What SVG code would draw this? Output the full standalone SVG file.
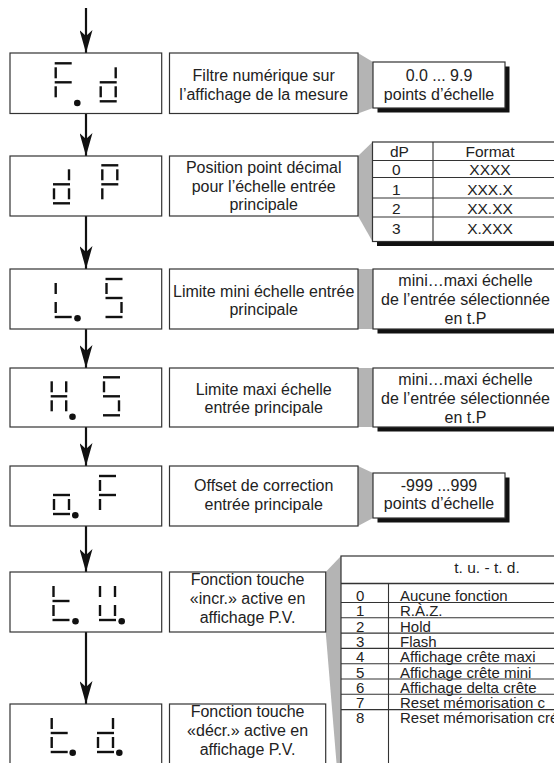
<svg xmlns="http://www.w3.org/2000/svg" width="554" height="763" viewBox="0 0 554 763">
<defs>
<style>
.bg{fill:#fff}
.box{fill:#fff;stroke:#333;stroke-width:1.2}
.sh{fill:#111}
.wg{fill:#b4b4b4}
.seg{stroke:#111;stroke-width:2.4;stroke-linecap:butt;fill:none}
.dot{fill:#111}
.t{font-family:"Liberation Sans",Arial,Helvetica,sans-serif;font-size:16px;fill:#222;text-anchor:middle}
.s{font-size:15.5px}
.r{font-size:15px}
.l{text-anchor:start}
.rule{stroke:#333;stroke-width:1.1}
.conn line{stroke:#111;stroke-width:2.2}
</style>
<marker id="ah" markerUnits="userSpaceOnUse" markerWidth="23" markerHeight="13" viewBox="0 0 23 13" refX="23" refY="6.5" orient="auto">
<path d="M0,0 L23,6.5 L0,13 L6,6.5 Z" fill="#111"/>
</marker>
</defs>
<rect class="bg" x="0" y="0" width="554" height="763"/>

<g id="connectors" class="conn">
<line x1="86" y1="8" x2="86" y2="53" marker-end="url(#ah)"/>
<line x1="86" y1="114" x2="86" y2="156" marker-end="url(#ah)"/>
<line x1="86" y1="216" x2="86" y2="269" marker-end="url(#ah)"/>
<line x1="86" y1="329" x2="86" y2="368" marker-end="url(#ah)"/>
<line x1="86" y1="427" x2="86" y2="466" marker-end="url(#ah)"/>
<line x1="86" y1="526" x2="86" y2="572" marker-end="url(#ah)"/>
<line x1="86" y1="632" x2="86" y2="704" marker-end="url(#ah)"/>
</g>

<!-- Step 1: F.d -->
<g id="disp-fd">
<rect class="box" x="10" y="53" width="151.7" height="60.5"/>
<g class="seg">
<line x1="54.7" y1="63.3" x2="71.7" y2="63.3"/><line x1="55.7" y1="67.3" x2="55.7" y2="78.3"/><line x1="54.7" y1="82.3" x2="71.7" y2="82.3"/><line x1="55.7" y1="86.3" x2="55.7" y2="97.3"/>
<line x1="115.7" y1="67.3" x2="115.7" y2="78.3"/><line x1="99.7" y1="82.3" x2="116.7" y2="82.3"/><line x1="100.7" y1="86.3" x2="100.7" y2="97.3"/><line x1="115.7" y1="86.3" x2="115.7" y2="97.3"/><line x1="99.7" y1="101.3" x2="116.7" y2="101.3"/>
</g>
<circle class="dot" cx="77.3" cy="103" r="3.3"/>
</g>
<g id="desc-fd">
<polygon class="wg" points="358,53 373,62 373,108 358,113.5"/>
<rect class="box" x="169.5" y="53" width="188.5" height="60.5"/>
<text class="t" x="263.7" y="81">Filtre numérique sur</text>
<text class="t" x="263.7" y="100">l’affichage de la mesure</text>
</g>
<g id="val-fd">
<rect class="sh" x="377.5" y="66.5" width="132" height="46"/>
<rect class="box" x="373" y="62" width="132" height="46"/>
<text class="t" x="439" y="81">0.0 ... 9.9</text>
<text class="t" x="439" y="100">points d’échelle</text>
</g>

<!-- Step 2: dP -->
<g id="disp-dp">
<rect class="box" x="10" y="156" width="151.7" height="60"/>
<g class="seg">
<line x1="69" y1="169.3" x2="69" y2="180.3"/><line x1="53" y1="184.3" x2="70" y2="184.3"/><line x1="54" y1="188.3" x2="54" y2="199.3"/><line x1="69" y1="188.3" x2="69" y2="199.3"/><line x1="53" y1="203.3" x2="70" y2="203.3"/>
<line x1="101.3" y1="165.3" x2="118.3" y2="165.3"/><line x1="102.3" y1="169.3" x2="102.3" y2="180.3"/><line x1="117.3" y1="169.3" x2="117.3" y2="180.3"/><line x1="101.3" y1="184.3" x2="118.3" y2="184.3"/><line x1="102.3" y1="188.3" x2="102.3" y2="199.3"/>
</g>
</g>
<g id="desc-dp">
<polygon class="wg" points="358,156 372.5,142 372.5,241.5 358,216"/>
<rect class="box" x="169.5" y="156" width="188.5" height="60"/>
<text class="t" x="263.7" y="173">Position point décimal</text>
<text class="t" x="263.7" y="191.5">pour l’échelle entrée</text>
<text class="t" x="263.7" y="210">principale</text>
</g>
<g id="table-dp">
<rect class="sh" x="377" y="146.5" width="200" height="99.5"/>
<rect class="box" x="372.5" y="142" width="200" height="99.5"/>
<line class="rule" x1="433" y1="142" x2="433" y2="241.5"/>
<line class="rule" x1="372.5" y1="160.5" x2="554" y2="160.5"/>
<line class="rule" x1="372.5" y1="177.5" x2="554" y2="177.5"/>
<line class="rule" x1="372.5" y1="198" x2="554" y2="198"/>
<line class="rule" x1="372.5" y1="217" x2="554" y2="217"/>
<text class="t s l" x="390" y="157">dP</text>
<text class="t s" x="490" y="157">Format</text>
<text class="t s l" x="392" y="175">0</text>
<text class="t s" x="490" y="175">XXXX</text>
<text class="t s l" x="392" y="194.5">1</text>
<text class="t s" x="490" y="194.5">XXX.X</text>
<text class="t s l" x="392" y="214">2</text>
<text class="t s" x="490" y="214">XX.XX</text>
<text class="t s l" x="392" y="234">3</text>
<text class="t s" x="490" y="234">X.XXX</text>
</g>

<!-- Step 3: L.S -->
<g id="disp-ls">
<rect class="box" x="10" y="269" width="151.7" height="60"/>
<g class="seg">
<line x1="55.7" y1="283" x2="55.7" y2="294"/><line x1="55.7" y1="302" x2="55.7" y2="313"/><line x1="54.7" y1="317" x2="71.7" y2="317"/>
<line x1="105.5" y1="279" x2="122.5" y2="279"/><line x1="106.5" y1="283" x2="106.5" y2="294"/><line x1="105.5" y1="298" x2="122.5" y2="298"/><line x1="121.5" y1="302" x2="121.5" y2="313"/><line x1="105.5" y1="317" x2="122.5" y2="317"/>
</g>
<circle class="dot" cx="77.5" cy="318.3" r="3.3"/>
</g>
<g id="desc-ls">
<rect class="wg" x="358" y="269" width="15" height="60"/>
<rect class="box" x="169.5" y="269" width="188.5" height="60"/>
<text class="t" x="263.7" y="296.5">Limite mini échelle entrée</text>
<text class="t" x="263.7" y="315">principale</text>
</g>
<g id="val-ls">
<rect class="sh" x="377.5" y="273.5" width="200" height="60"/>
<rect class="box" x="373" y="269" width="200" height="60"/>
<text class="t" x="465.5" y="286">mini…maxi échelle</text>
<text class="t" x="465.5" y="305">de l’entrée sélectionnée</text>
<text class="t" x="465.5" y="323.5">en t.P</text>
</g>

<!-- Step 4: H.S -->
<g id="disp-hs">
<rect class="box" x="10" y="368" width="151.7" height="59"/>
<g class="seg">
<line x1="51.7" y1="381.3" x2="51.7" y2="392.3"/><line x1="66.2" y1="381.3" x2="66.2" y2="392.3"/><line x1="50.7" y1="396.3" x2="67.2" y2="396.3"/><line x1="51.7" y1="400.3" x2="51.7" y2="411.3"/><line x1="66.2" y1="400.3" x2="66.2" y2="411.3"/>
<line x1="103" y1="377.3" x2="120" y2="377.3"/><line x1="104" y1="381.3" x2="104" y2="392.3"/><line x1="103" y1="396.3" x2="120" y2="396.3"/><line x1="119" y1="400.3" x2="119" y2="411.3"/><line x1="103" y1="415.3" x2="120" y2="415.3"/>
</g>
<circle class="dot" cx="72.5" cy="416.7" r="3.3"/>
</g>
<g id="desc-hs">
<rect class="wg" x="358" y="368" width="15" height="59"/>
<rect class="box" x="169.5" y="368" width="188.5" height="59"/>
<text class="t" x="263.7" y="394.5">Limite maxi échelle</text>
<text class="t" x="263.7" y="413">entrée principale</text>
</g>
<g id="val-hs">
<rect class="sh" x="377.5" y="372.5" width="200" height="59"/>
<rect class="box" x="373" y="368" width="200" height="59"/>
<text class="t" x="465.5" y="385">mini…maxi échelle</text>
<text class="t" x="465.5" y="404">de l’entrée sélectionnée</text>
<text class="t" x="465.5" y="422.5">en t.P</text>
</g>

<!-- Step 5: o.F -->
<g id="disp-of">
<rect class="box" x="10" y="466" width="151.7" height="60"/>
<g class="seg">
<line x1="53" y1="495" x2="70" y2="495"/><line x1="54" y1="499" x2="54" y2="510"/><line x1="69" y1="499" x2="69" y2="510"/><line x1="53" y1="514" x2="70" y2="514"/>
<line x1="99" y1="476" x2="116" y2="476"/><line x1="100" y1="480" x2="100" y2="491"/><line x1="99" y1="495" x2="116" y2="495"/><line x1="100" y1="499" x2="100" y2="510"/>
</g>
<circle class="dot" cx="75.3" cy="515.3" r="3.3"/>
</g>
<g id="desc-of">
<polygon class="wg" points="358,466 373,473 373,518 358,526"/>
<rect class="box" x="169.5" y="466" width="188.5" height="60"/>
<text class="t" x="263.7" y="491">Offset de correction</text>
<text class="t" x="263.7" y="509.5">entrée principale</text>
</g>
<g id="val-of">
<rect class="sh" x="377.5" y="477.5" width="132" height="45"/>
<rect class="box" x="373" y="473" width="132" height="45"/>
<text class="t" x="439" y="490.5">-999 ...999</text>
<text class="t" x="439" y="509">points d’échelle</text>
</g>

<!-- Step 6: t.u -->
<g id="disp-tu">
<rect class="box" x="10" y="572" width="151.7" height="60"/>
<g class="seg">
<line x1="53.5" y1="586" x2="53.5" y2="597"/><line x1="52.5" y1="601" x2="69.5" y2="601"/><line x1="53.5" y1="605" x2="53.5" y2="616"/><line x1="52.5" y1="620" x2="69.5" y2="620"/>
<line x1="100" y1="586" x2="100" y2="597"/><line x1="115" y1="586" x2="115" y2="597"/><line x1="100" y1="605" x2="100" y2="616"/><line x1="115" y1="605" x2="115" y2="616"/><line x1="99" y1="620" x2="116" y2="620"/>
</g>
<circle class="dot" cx="75.5" cy="621.2" r="3.3"/>
<circle class="dot" cx="121.7" cy="621.2" r="3.3"/>
</g>
<g id="desc-tu">
<polygon class="wg" points="325.7,572 341,556 341,763 336.5,763 325.7,632"/>
<rect class="box" x="169.5" y="572" width="156.2" height="60"/>
<text class="t" x="247.6" y="584.5">Fonction touche</text>
<text class="t" x="247.6" y="603.5">«incr.» active en</text>
<text class="t" x="247.6" y="622.5">affichage P.V.</text>
</g>

<!-- Step 7: t.d -->
<g id="disp-td">
<rect class="box" x="10" y="704" width="151.7" height="80"/>
<g class="seg">
<line x1="51.7" y1="718" x2="51.7" y2="729"/><line x1="50.7" y1="733" x2="67.7" y2="733"/><line x1="51.7" y1="737" x2="51.7" y2="748"/><line x1="50.7" y1="752" x2="67.7" y2="752"/>
<line x1="113" y1="718" x2="113" y2="729"/><line x1="97" y1="733" x2="114" y2="733"/><line x1="98" y1="737" x2="98" y2="748"/><line x1="113" y1="737" x2="113" y2="748"/><line x1="97" y1="752" x2="114" y2="752"/>
</g>
<circle class="dot" cx="72.7" cy="752.7" r="3.3"/>
<circle class="dot" cx="119.3" cy="752.7" r="3.3"/>
</g>
<g id="desc-td">
<rect class="box" x="169.5" y="704" width="156.2" height="80"/>
<text class="t" x="247.6" y="716.5">Fonction touche</text>
<text class="t" x="247.6" y="735.5">«décr.» active en</text>
<text class="t" x="247.6" y="754.5">affichage P.V.</text>
</g>

<!-- Shared table for t.u / t.d -->
<g id="table-tutd">
<rect class="box" x="341" y="556" width="230" height="240"/>
<line class="rule" x1="341" y1="583.5" x2="554" y2="583.5" style="stroke-width:1.5"/>
<line class="rule" x1="388.5" y1="583.5" x2="388.5" y2="763"/>
<line class="rule" x1="341" y1="602.5" x2="554" y2="602.5"/>
<line class="rule" x1="341" y1="617.8" x2="554" y2="617.8"/>
<line class="rule" x1="341" y1="633.1" x2="554" y2="633.1"/>
<line class="rule" x1="341" y1="648.4" x2="554" y2="648.4"/>
<line class="rule" x1="341" y1="663.7" x2="554" y2="663.7"/>
<line class="rule" x1="341" y1="679" x2="554" y2="679"/>
<line class="rule" x1="341" y1="694.3" x2="554" y2="694.3"/>
<line class="rule" x1="341" y1="709.6" x2="554" y2="709.6"/>
<text class="t s" x="487" y="573">t. u. - t. d.</text>
<text class="t r l" x="356" y="601">0</text><text class="t r l" x="400" y="601">Aucune fonction</text>
<text class="t r l" x="356" y="616.3">1</text><text class="t r l" x="400" y="616.3">R.À.Z.</text>
<text class="t r l" x="356" y="631.6">2</text><text class="t r l" x="400" y="631.6">Hold</text>
<text class="t r l" x="356" y="646.9">3</text><text class="t r l" x="400" y="646.9">Flash</text>
<text class="t r l" x="356" y="662.2">4</text><text class="t r l" x="400" y="662.2">Affichage crête maxi</text>
<text class="t r l" x="356" y="677.5">5</text><text class="t r l" x="400" y="677.5">Affichage crête mini</text>
<text class="t r l" x="356" y="692.8">6</text><text class="t r l" x="400" y="692.8">Affichage delta crête</text>
<text class="t r l" x="356" y="708.1">7</text><text class="t r l" x="400" y="708.1">Reset mémorisation c</text>
<text class="t r l" x="356" y="723.4">8</text><text class="t r l" x="400" y="723.4">Reset mémorisation cré</text>
</g>
</svg>
